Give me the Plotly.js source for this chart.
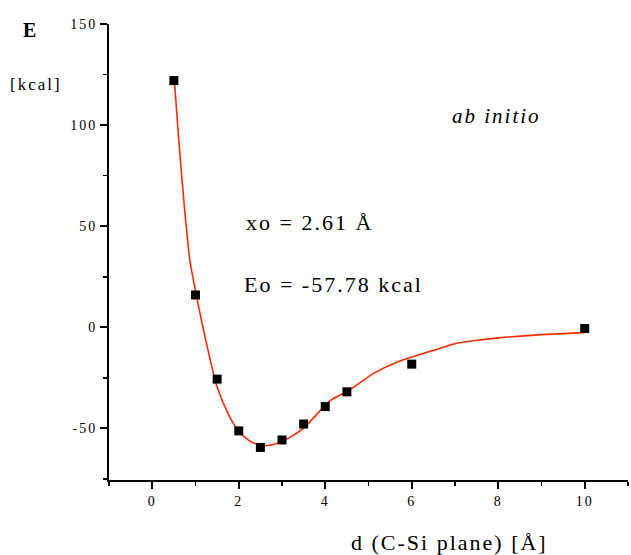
<!DOCTYPE html>
<html>
<head>
<meta charset="utf-8">
<script src="https://cdn.plot.ly/plotly-3.0.1.min.js"></script>
<style>
html,body{margin:0;padding:0;background:#fff;}
#chart{width:631px;height:555px;}
#chart .annotation-text{letter-spacing:2px;}
#chart .xtick text,#chart .ytick text{letter-spacing:2px;}
</style>
</head>
<body>
<div id="chart"></div>
<script>
// measured data points (d in Å, E in kcal)
const pointX = [0.5, 1.0, 1.5, 2.0, 2.5, 3.0, 3.5, 4.0, 4.5, 6.0, 10.0];
const pointY = [122, 16, -25.6, -51.2, -59.4, -55.7, -47.8, -39.2, -31.9, -18.2, -0.6];
// fitted curve
const fitX = [0.51, 0.62, 0.75, 0.87, 1.02, 1.29, 1.5, 1.75, 2.0, 2.3, 2.63, 3.0, 3.5, 4.1, 4.55, 5.1, 5.65, 6.1, 6.5, 7.0, 7.5, 8.0, 9.0, 10.0];
const fitY = [122.3, 90.9, 57.9, 33.2, 15.8, -11.4, -29.5, -42.5, -51.5, -56.8, -58.5, -56.5, -49.8, -36.5, -31.1, -23.0, -17.3, -14.0, -11.4, -8.1, -6.4, -5.2, -3.6, -2.6];
const xTicks = [0, 2, 4, 6, 8, 10];
const yTicks = [-50, 0, 50, 100, 150];

const serif = "Liberation Serif";
const traces = [
  {x: fitX, y: fitY, mode: 'lines', line: {color: '#ff2a00', width: 1.6, shape: 'spline', smoothing: 0.7}, hoverinfo: 'skip'},
  {x: pointX, y: pointY, mode: 'markers', marker: {symbol: 'square', size: 9, color: '#000'}}
];
const layout = {
  width: 631, height: 555,
  margin: {l: 109, r: 3, t: 24, b: 75},
  paper_bgcolor: '#fff', plot_bgcolor: '#fff',
  showlegend: false,
  font: {family: serif, color: '#000'},
  xaxis: {
    range: [-1, 11], showgrid: false, zeroline: false,
    showline: true, linecolor: '#000', linewidth: 2,
    tickmode: 'array', tickvals: xTicks, ticktext: xTicks.map(String),
    ticks: 'outside', ticklen: 7, tickwidth: 2, tickcolor: '#000',
    tickfont: {family: serif, size: 14, color: '#000'},
    minor: {dtick: 1, tick0: 1, ticks: 'outside', ticklen: 4, tickwidth: 1.5, tickcolor: '#000', showgrid: false}
  },
  yaxis: {
    range: [-75.5, 150], showgrid: false, zeroline: false,
    showline: true, linecolor: '#000', linewidth: 2,
    tickmode: 'array', tickvals: yTicks, ticktext: yTicks.map(String),
    ticks: 'outside', ticklen: 7, tickwidth: 2, tickcolor: '#000',
    tickfont: {family: serif, size: 14, color: '#000'},
    minor: {dtick: 25, tick0: 25, ticks: 'outside', ticklen: 4, tickwidth: 1.5, tickcolor: '#000', showgrid: false}
  },
  annotations: [
    {text: '<b>E</b>', xref: 'paper', yref: 'paper', x: -0.152, y: 0.987, xanchor: 'center', yanchor: 'middle', showarrow: false, font: {family: serif, size: 20}},
    {text: '[kcal]', xref: 'paper', yref: 'paper', x: -0.141, y: 0.868, xanchor: 'center', yanchor: 'middle', showarrow: false, font: {family: serif, size: 17}},
    {text: '<i>ab initio</i>', xref: 'paper', yref: 'paper', x: 0.746, y: 0.798, xanchor: 'center', yanchor: 'middle', showarrow: false, font: {family: serif, size: 21}},
    {text: 'xo = 2.61 Å', xref: 'paper', yref: 'paper', x: 0.387, y: 0.564, xanchor: 'center', yanchor: 'middle', showarrow: false, font: {family: serif, size: 22}},
    {text: 'Eo = -57.78 kcal', xref: 'paper', yref: 'paper', x: 0.432, y: 0.428, xanchor: 'center', yanchor: 'middle', showarrow: false, font: {family: serif, size: 22}},
    {text: 'd (C-Si plane) [Å]', xref: 'paper', yref: 'paper', x: 0.657, y: -0.137, xanchor: 'center', yanchor: 'middle', showarrow: false, font: {family: serif, size: 22}}
  ]
};
Plotly.newPlot('chart', traces, layout, {staticPlot: true, displayModeBar: false});
</script>
</body>
</html>
